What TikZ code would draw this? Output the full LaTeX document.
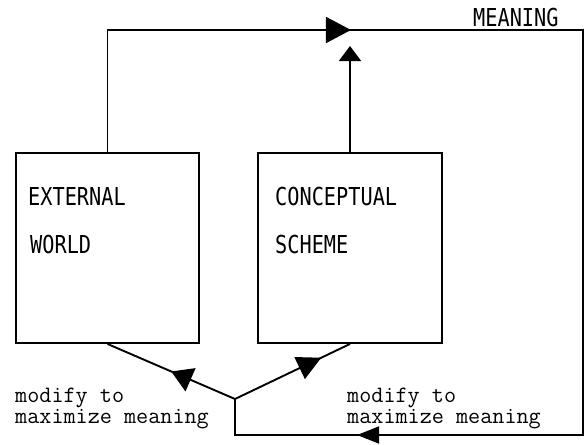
\documentclass[tikz,border=0pt]{standalone}
\usepackage{fontspec}
\newfontfamily\capfont[FakeStretch=0.82]{DejaVu Sans Mono}
\usetikzlibrary{arrows.meta,decorations.markings}
\begin{document}
\begin{tikzpicture}[x=1pt,y=-1pt,
  line/.style={line width=1.9pt, line join=miter},
  box/.style={draw, line width=1.9pt, inner sep=0pt, minimum height=190pt},
  caps/.style={font=\capfont\fontsize{24.7}{24.7}\selectfont, inner sep=0pt, anchor=base west},
  mono/.style={font=\ttfamily\fontsize{23.5}{21.5}\selectfont, inner sep=0pt, anchor=base west},
]
\fill[white] (0,0) rectangle (585,444);
\useasboundingbox (0,0) rectangle (585,444);

% boxes
\node[box, minimum width=183pt] (ext) at (107.5,248) {};
\node[box, minimum width=184pt] (con) at (350,248) {};

% corner coordinates
\coordinate (c1) at (107.5,30);
\coordinate (c2) at (583,30);
\coordinate (c3) at (583,435);
\coordinate (c4) at (235,435);
\coordinate (J) at (235,399);
\coordinate (T) at (350,46);

% meaning loop
\draw[line, postaction={decorate, decoration={markings,
    mark=at position 365.5pt with {\arrow{Triangle[length=25pt,width=26pt]}},
    mark=at position 1228.5pt with {\arrow{Triangle[length=22pt,width=17pt]}}}}]
  (ext.north) -- (c1) -- (c2) -- (c3) -- (c4) -- (J);

% conceptual scheme to meaning
\draw[line, -{Triangle[length=15pt,width=22pt]}] (con.north) -- (T);

% modify arrows
\draw[line, postaction={decorate, decoration={markings,
    mark=at position 0.5 with {\arrow{Triangle[length=21pt,width=25pt]}}}}]
  (J) -- (ext.south);
\draw[line, postaction={decorate, decoration={markings,
    mark=at position 0.75 with {\arrow{Triangle[length=24pt,width=24pt]}}}}]
  (J) -- (con.south);

% labels
\node[caps] (t1) at (28,205) {EXTERNAL};
\node[caps] (t2) at (30,253) {WORLD};
\node[caps] (t3) at (275,205) {CONCEPTUAL};
\node[caps] (t4) at (275,253) {SCHEME};
\node[caps] (t5) at (473,27) {MEANING};

\node[mono] (m1) at (15,402) {modify to};
\node[mono] (m2) at (15,423.5) {maximize meaning};
\node[mono] (m3) at (347,402) {modify to};
\node[mono] (m4) at (347,423.5) {maximize meaning};
\end{tikzpicture}
\end{document}
